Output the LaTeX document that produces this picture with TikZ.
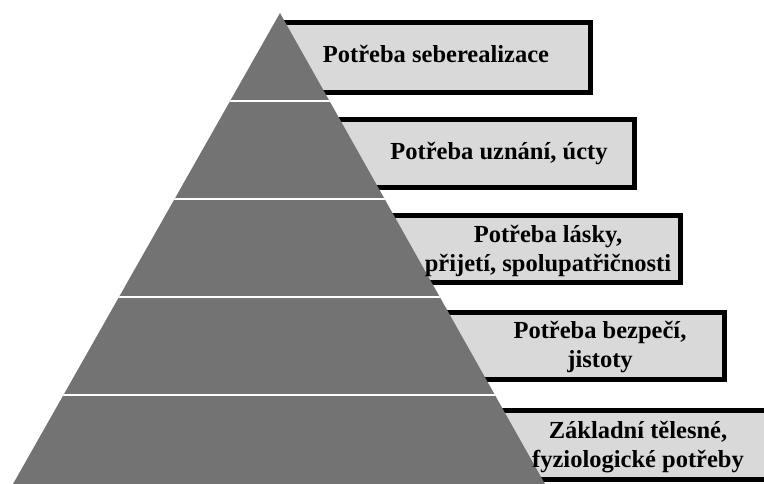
\documentclass[tikz,border=0pt]{standalone}
\usepackage{fontspec}
\setmainfont{Liberation Serif}
\definecolor{pyrgray}{HTML}{737373}
\definecolor{boxgray}{HTML}{D9D9D9}

\begin{document}
\begin{tikzpicture}[x=1pt,y=-1pt]
    \tikzstyle{level}=[fill=boxgray,draw=black,line width=4.5pt]
    \tikzstyle{label}=[font=\fontsize{24.5}{29.5}\selectfont\bfseries,align=center,inner sep=0pt]
    \useasboundingbox (0,0) rectangle (764,484);

    % need boxes, left ends hidden under the pyramid
    \draw[level] (281,22.5) rectangle (590.5,92.5);
    \draw[level] (281,119.5) rectangle (634.5,187.5);
    \draw[level] (281,215.5) rectangle (680.5,282.5);
    \draw[level] (281,312.5) rectangle (724.5,379.5);
    \draw[level] (281,410.5) rectangle (790,479.5);

    % pyramid
    \fill[pyrgray] (280,13) -- (545,484) -- (13,484) -- cycle;
    \begin{scope}
        \clip (280,13) -- (545,484) -- (13,484) -- cycle;
        \foreach \y in {101,199,297,395}
            \draw[white, line width=2.5pt] (0,\y) -- (764,\y);
    \end{scope}

    \node[label] (selfreal) at (436,54) {Potřeba seberealizace};
    \node[label] (esteem) at (499,154) {Potřeba uznání, úcty};
    \node[label] (love) at (548,251) {Potřeba lásky,\\přijetí, spolupatřičnosti};
    \node[label] (safety) at (600,347) {Potřeba bezpečí,\\jistoty};
    \node[label] (basic) at (638,447) {Základní tělesné,\\fyziologické potřeby};
\end{tikzpicture}
\end{document}
